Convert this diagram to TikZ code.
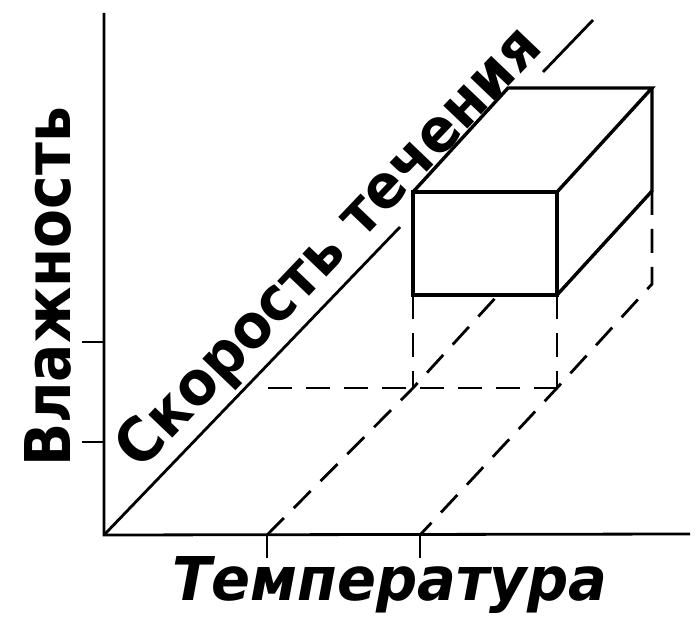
\documentclass[tikz,border=0pt]{standalone}
\usepackage{fontspec}
\setmainfont{DejaVu Sans}
\usepackage{graphicx}
\begin{document}
\begin{tikzpicture}[x=1pt,y=-1pt,
  axis/.style={line width=2.8pt},
  edge/.style={line width=3.4pt, line join=miter},
  hidden/.style={line width=2.8pt, dash pattern=on 24pt off 14pt},
  tick/.style={line width=2.4pt},
  lbl/.style={inner sep=0pt, font=\bfseries}]
\useasboundingbox[fill=white] (0,0) rectangle (696,617);
% axes
\coordinate (O) at (104,535);
\coordinate (ytop) at (104,13);
\coordinate (xend) at (690,534);
\draw[axis] (ytop) -- (O) -- (xend);
% ticks
\coordinate (ty1) at (104,342); \coordinate (ty1l) at (82,342);
\coordinate (ty2) at (104,442); \coordinate (ty2l) at (82,442);
\coordinate (tx1) at (267,535); \coordinate (tx1d) at (267,558);
\coordinate (tx2) at (420,535); \coordinate (tx2d) at (420,558);
\draw[tick] (ty1l) -- (ty1);
\draw[tick] (ty2l) -- (ty2);
\draw[tick] (tx1) -- (tx1d);
\draw[tick] (tx2) -- (tx2d);
% diagonal axis
\coordinate (dA) at (400,227);
\coordinate (dB) at (543,72);
\coordinate (dC) at (593,20);
\draw[axis] (O) -- (dA);
\draw[axis] (dB) -- (dC);
% box corners
\coordinate (FTL) at (413,192); \coordinate (FTR) at (557,192);
\coordinate (FML) at (413,295); \coordinate (FMR) at (557,295);
\coordinate (FBL) at (413,388); \coordinate (FBR) at (557,388);
\coordinate (BTL) at (508,88);  \coordinate (BTR) at (652,88);
\coordinate (BMR) at (652,191); \coordinate (BBR) at (652,284);
\coordinate (HL) at (268,388);  \coordinate (HE) at (498,295);
% solid part of the box
\draw[edge] (FML) -- (FTL) -- (FTR) -- (FMR) -- cycle;
\draw[edge] (FTL) -- (BTL) -- (BTR) -- (FTR);
\draw[edge] (BTR) -- (BMR) -- (FMR);
% hidden (dashed) part
\draw[hidden] (FML) -- (FBL);
\draw[hidden] (FMR) -- (FBR);
\draw[hidden] (HL) -- (FBR);
\draw[hidden] (BMR) -- (BBR) -- (FBR) -- (tx2);
\draw[hidden] (tx1) -- (FBL) -- (HE);
% labels
\node[lbl, anchor=base west, rotate=90] (vl) at (70,467) {\resizebox{360pt}{46pt}{Влажность}};
\node[lbl, anchor=base west] (tp) at (172,600) {\resizebox{435pt}{44pt}{\itshape Температура}};
\node[lbl, anchor=base west, rotate=46.3] (sk) at (140.7,472) {\resizebox{584pt}{45pt}{Скорость течения}};
\end{tikzpicture}
\end{document}
